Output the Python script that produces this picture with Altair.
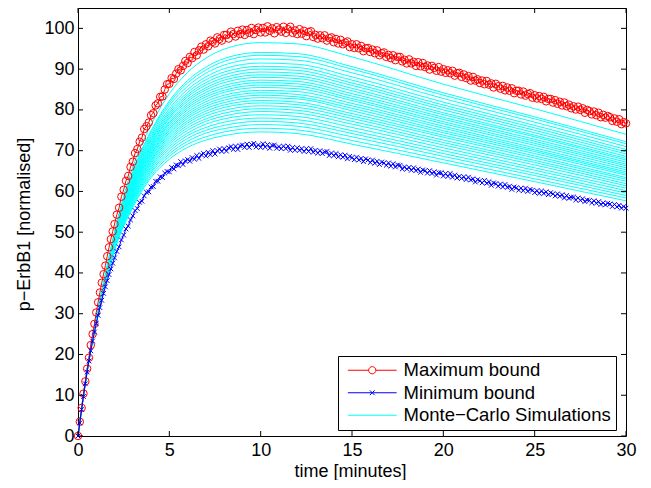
import altair as alt
import pandas as pd

FONT = "Liberation Sans"

SERIES = ["Maximum bound", "Minimum bound", "Monte\u2212Carlo Simulations"]
COLORS = ["#ff0000", "#0000ff", "#00ffff"]
X_TICKS = [0, 5, 10, 15, 20, 25, 30]
Y_TICKS = [0, 10, 20, 30, 40, 50, 60, 70, 80, 90, 100]

# time grid of the Monte-Carlo curves (minutes)
SIM_TIMES = [0, 0.5, 1, 1.5, 2, 3, 4, 5, 6, 7, 8, 10, 12, 15, 20, 25, 30]

MC_01 = [0, 16.3, 29.0, 39.8, 50.2, 66.0, 76.3, 84.0, 89.2, 92.7, 94.9, 96.5, 96.2, 93.0, 86.3, 80.3, 74.0]
MC_02 = [0, 16.2, 28.8, 39.5, 49.7, 64.9, 74.9, 82.2, 87.2, 90.5, 92.6, 94.1, 93.8, 90.6, 84.2, 78.3, 72.2]
MC_03 = [0, 16.2, 28.8, 39.4, 49.5, 64.6, 74.5, 81.7, 86.6, 89.8, 91.9, 93.4, 93.1, 90.0, 83.6, 77.8, 71.7]
MC_04 = [0, 16.2, 28.7, 39.3, 49.3, 64.2, 73.9, 81.1, 85.8, 89.0, 91.0, 92.5, 92.2, 89.1, 82.8, 77.0, 71.0]
MC_05 = [0, 16.2, 28.7, 39.2, 49.1, 63.7, 73.4, 80.3, 85.0, 88.1, 90.1, 91.5, 91.2, 88.1, 81.9, 76.2, 70.3]
MC_06 = [0, 16.2, 28.6, 39.1, 49.0, 63.4, 72.9, 79.7, 84.3, 87.4, 89.3, 90.7, 90.4, 87.3, 81.2, 75.6, 69.7]
MC_07 = [0, 16.2, 28.6, 39.0, 48.8, 63.0, 72.5, 79.2, 83.7, 86.7, 88.6, 90.0, 89.7, 86.6, 80.6, 75.0, 69.2]
MC_08 = [0, 16.1, 28.5, 38.9, 48.7, 62.7, 72.1, 78.7, 83.2, 86.1, 87.9, 89.3, 89.0, 86.0, 80.0, 74.4, 68.6]
MC_09 = [0, 16.1, 28.5, 38.9, 48.5, 62.4, 71.6, 78.2, 82.6, 85.4, 87.3, 88.6, 88.3, 85.3, 79.3, 73.8, 68.1]
MC_10 = [0, 16.1, 28.5, 38.8, 48.4, 62.1, 71.3, 77.8, 82.1, 84.9, 86.7, 88.0, 87.7, 84.7, 78.8, 73.4, 67.7]
MC_11 = [0, 16.1, 28.4, 38.7, 48.2, 61.8, 70.9, 77.2, 81.5, 84.3, 86.0, 87.3, 87.0, 84.0, 78.2, 72.8, 67.2]
MC_12 = [0, 16.1, 28.4, 38.6, 48.1, 61.5, 70.5, 76.8, 81.0, 83.7, 85.4, 86.7, 86.4, 83.4, 77.7, 72.3, 66.7]
MC_13 = [0, 16.1, 28.3, 38.6, 48.0, 61.3, 70.2, 76.4, 80.5, 83.2, 84.8, 86.1, 85.8, 82.8, 77.1, 71.8, 66.3]
MC_14 = [0, 16.1, 28.3, 38.5, 47.8, 61.0, 69.8, 75.9, 80.0, 82.6, 84.3, 85.5, 85.2, 82.3, 76.6, 71.3, 65.8]
MC_15 = [0, 16.0, 28.3, 38.4, 47.7, 60.7, 69.4, 75.4, 79.4, 82.0, 83.6, 84.8, 84.5, 81.6, 76.0, 70.7, 65.3]
MC_16 = [0, 16.0, 28.2, 38.3, 47.6, 60.4, 69.1, 75.0, 78.9, 81.4, 83.0, 84.2, 83.8, 81.0, 75.5, 70.2, 64.8]
MC_17 = [0, 16.0, 28.2, 38.3, 47.4, 60.1, 68.7, 74.5, 78.4, 80.9, 82.4, 83.6, 83.2, 80.4, 74.9, 69.8, 64.4]
MC_18 = [0, 16.0, 28.1, 38.2, 47.3, 59.8, 68.4, 74.1, 77.9, 80.3, 81.8, 83.0, 82.7, 79.8, 74.4, 69.3, 64.0]
MC_19 = [0, 16.0, 28.1, 38.1, 47.2, 59.5, 67.9, 73.6, 77.3, 79.7, 81.2, 82.3, 81.9, 79.1, 73.8, 68.7, 63.4]
MC_20 = [0, 16.0, 28.1, 38.0, 47.0, 59.2, 67.6, 73.1, 76.8, 79.1, 80.6, 81.7, 81.3, 78.5, 73.3, 68.2, 63.0]
MC_21 = [0, 16.0, 28.0, 38.0, 46.9, 58.9, 67.2, 72.6, 76.2, 78.5, 79.9, 81.0, 80.6, 77.9, 72.6, 67.6, 62.5]
MC_22 = [0, 15.9, 28.0, 37.9, 46.7, 58.6, 66.8, 72.1, 75.6, 77.8, 79.2, 80.3, 79.9, 77.2, 72.0, 67.1, 61.9]
MC_23 = [0, 15.9, 27.9, 37.8, 46.6, 58.3, 66.3, 71.6, 75.0, 77.2, 78.5, 79.6, 79.2, 76.5, 71.4, 66.5, 61.4]
MC_24 = [0, 15.9, 27.9, 37.7, 46.4, 57.9, 65.9, 71.0, 74.3, 76.5, 77.8, 78.8, 78.4, 75.7, 70.7, 65.8, 60.8]
MC_25 = [0, 15.9, 27.8, 37.6, 46.2, 57.6, 65.4, 70.4, 73.7, 75.7, 77.0, 78.0, 77.6, 74.9, 70.0, 65.2, 60.2]
MC_26 = [0, 15.9, 27.8, 37.5, 46.1, 57.2, 64.9, 69.8, 73.0, 75.0, 76.2, 77.2, 76.8, 74.2, 69.3, 64.5, 59.6]
MC_27 = [0, 15.8, 27.7, 37.4, 45.9, 56.8, 64.5, 69.2, 72.3, 74.3, 75.4, 76.4, 76.0, 73.4, 68.6, 63.9, 59.0]
MC_28 = [0, 15.8, 27.7, 37.3, 45.7, 56.4, 63.9, 68.6, 71.6, 73.4, 74.6, 75.5, 75.1, 72.5, 67.8, 63.1, 58.4]
MC_29 = [0, 15.8, 27.6, 37.2, 45.5, 56.0, 63.4, 67.9, 70.8, 72.6, 73.7, 74.6, 74.2, 71.6, 67.0, 62.4, 57.7]

MC_RUNS = [MC_01, MC_02, MC_03, MC_04, MC_05, MC_06, MC_07, MC_08, MC_09, MC_10,
           MC_11, MC_12, MC_13, MC_14, MC_15, MC_16, MC_17, MC_18, MC_19, MC_20,
           MC_21, MC_22, MC_23, MC_24, MC_25, MC_26, MC_27, MC_28, MC_29]

# time grid of the bounds (minutes)
BOUND_TIMES = [
    0, 0.1, 0.2, 0.3, 0.4, 0.5, 0.6, 0.7, 0.8, 0.9, 1.0,
    1.1, 1.2, 1.3, 1.4, 1.5, 1.6, 1.7, 1.8, 1.9, 2.0,
    2.125, 2.25, 2.375, 2.5, 2.625, 2.75, 2.875, 3.0,
    3.125, 3.25, 3.375, 3.5, 3.625, 3.75, 3.875, 4.0,
    4.125, 4.25, 4.375, 4.5, 4.625, 4.75, 4.875, 5.0,
    5.125, 5.25, 5.375, 5.5, 5.625, 5.75, 5.875, 6.0,
    6.125, 6.25, 6.375, 6.5, 6.625, 6.75, 6.875, 7.0,
    7.125, 7.25, 7.375, 7.5, 7.625, 7.75, 7.875, 8.0,
    8.125, 8.25, 8.375, 8.5, 8.625, 8.75, 8.875, 9.0,
    9.125, 9.25, 9.375, 9.5, 9.625, 9.75, 9.875, 10.0,
    10.125, 10.25, 10.375, 10.5, 10.625, 10.75, 10.875, 11.0,
    11.125, 11.25, 11.375, 11.5, 11.625, 11.75, 11.875, 12.0,
    12.125, 12.25, 12.375, 12.5, 12.625, 12.75, 12.875, 13.0,
    13.125, 13.25, 13.375, 13.5, 13.625, 13.75, 13.875, 14.0,
    14.125, 14.25, 14.375, 14.5, 14.625, 14.75, 14.875, 15.0,
    15.125, 15.25, 15.375, 15.5, 15.625, 15.75, 15.875, 16.0,
    16.125, 16.25, 16.375, 16.5, 16.625, 16.75, 16.875, 17.0,
    17.125, 17.25, 17.375, 17.5, 17.625, 17.75, 17.875, 18.0,
    18.125, 18.25, 18.375, 18.5, 18.625, 18.75, 18.875, 19.0,
    19.125, 19.25, 19.375, 19.5, 19.625, 19.75, 19.875, 20.0,
    20.125, 20.25, 20.375, 20.5, 20.625, 20.75, 20.875, 21.0,
    21.125, 21.25, 21.375, 21.5, 21.625, 21.75, 21.875, 22.0,
    22.125, 22.25, 22.375, 22.5, 22.625, 22.75, 22.875, 23.0,
    23.125, 23.25, 23.375, 23.5, 23.625, 23.75, 23.875, 24.0,
    24.125, 24.25, 24.375, 24.5, 24.625, 24.75, 24.875, 25.0,
    25.125, 25.25, 25.375, 25.5, 25.625, 25.75, 25.875, 26.0,
    26.125, 26.25, 26.375, 26.5, 26.625, 26.75, 26.875, 27.0,
    27.125, 27.25, 27.375, 27.5, 27.625, 27.75, 27.875, 28.0,
    28.125, 28.25, 28.375, 28.5, 28.625, 28.75, 28.875, 29.0,
    29.125, 29.25, 29.375, 29.5, 29.625, 29.75, 29.875, 30.0,
]

MAX_BOUND = [
    0, 3.5, 6.9, 10.4, 13.4, 16.5, 19.2, 22.3, 25.0, 27.5, 30.3,
    32.8, 35.2, 37.6, 39.7, 41.8, 44.1, 46.3, 48.3, 50.2, 52.0,
    54.3, 56.0, 58.7, 60.4, 62.6, 63.8, 66.0, 67.3,
    69.4, 70.4, 72.2, 73.2, 75.3, 76.0, 76.9, 78.7,
    79.2, 81.1, 81.6, 83.2, 83.3, 85.0, 86.3, 86.4,
    87.8, 87.6, 88.9, 90.0, 89.7, 90.8, 92.0, 91.5,
    93.0, 92.7, 94.2, 93.4, 94.6, 95.5, 94.8, 96.1,
    95.6, 97.0, 96.7, 96.3, 97.8, 97.4, 97.0, 98.4,
    98.4, 97.5, 99.2, 98.6, 98.0, 99.4, 98.6, 99.7,
    98.4, 99.6, 98.9, 100.1, 98.6, 99.6, 100.2, 99.0,
    100.1, 99.0, 100.5, 99.4, 100.0, 98.8, 100.3, 99.7,
    99.2, 100.4, 98.9, 99.8, 100.4, 98.9, 99.5, 98.6,
    99.8, 98.7, 99.4, 98.1, 99.1, 99.3, 97.9, 98.4,
    97.5, 98.3, 97.6, 98.3, 97.0, 97.6, 97.8, 96.6,
    97.4, 96.3, 97.2, 96.1, 96.5, 96.8, 95.4, 96.1,
    95.2, 96.1, 95.1, 95.7, 94.4, 95.1, 95.2, 94.2,
    94.8, 93.9, 94.6, 93.4, 93.9, 94.1, 93.0, 93.5,
    92.7, 93.4, 92.2, 93.0, 93.0, 91.9, 92.3, 91.4,
    92.4, 91.4, 91.8, 90.8, 91.7, 90.7, 91.5, 90.5,
    90.9, 89.9, 90.8, 90.3, 89.6, 90.5, 89.4, 90.0,
    89.1, 89.7, 89.0, 89.6, 88.4, 89.0, 89.1, 88.1,
    88.7, 87.8, 88.3, 87.2, 88.1, 87.2, 87.5, 86.6,
    87.2, 86.3, 87.1, 86.2, 86.5, 85.5, 86.4, 85.8,
    85.2, 85.9, 84.8, 85.5, 84.7, 85.3, 84.1, 84.7,
    84.7, 83.8, 84.5, 83.5, 83.9, 84.1, 83.0, 83.6,
    82.8, 83.4, 82.7, 83.2, 82.1, 82.7, 82.7, 81.8,
    82.4, 81.5, 82.0, 81.1, 81.8, 80.9, 81.3, 80.4,
    80.9, 80.1, 80.8, 80.0, 80.4, 79.3, 80.0, 79.7,
    78.9, 79.6, 78.7, 79.3, 78.2, 78.8, 78.1, 78.5,
    78.2, 77.3, 77.9, 77.1, 77.7, 76.5, 77.0, 76.7,
]

MIN_BOUND = [
    0, 3.2, 6.5, 9.7, 12.8, 15.7, 18.4, 20.9, 23.3, 25.5, 27.6,
    29.6, 31.5, 33.3, 35.0, 36.6, 38.1, 39.6, 41.0, 42.4, 43.7,
    45.3, 46.4, 48.1, 49.3, 50.8, 51.5, 53.0, 54.0,
    55.3, 55.8, 57.3, 57.6, 58.9, 59.8, 59.9, 61.1,
    61.2, 62.5, 62.5, 63.6, 63.4, 64.5, 64.9, 64.8,
    65.9, 65.5, 66.5, 66.3, 67.3, 66.6, 67.5, 67.8,
    67.4, 68.3, 67.9, 68.8, 68.1, 69.0, 69.3, 68.7,
    69.6, 69.0, 70.0, 69.2, 70.0, 70.4, 69.8, 70.5,
    69.9, 70.7, 71.0, 70.3, 71.1, 70.3, 71.2, 71.4,
    70.8, 71.6, 70.8, 71.5, 71.8, 70.9, 71.4, 70.8,
    71.7, 70.9, 71.5, 70.6, 71.3, 71.4, 70.6, 71.0,
    70.5, 71.1, 70.5, 71.1, 70.1, 70.8, 70.1, 70.7,
    70.1, 70.5, 69.8, 70.5, 69.8, 70.5, 69.6, 70.1,
    69.4, 70.0, 69.3, 69.7, 69.8, 68.8, 69.4, 68.8,
    69.3, 68.5, 69.0, 68.4, 68.9, 68.0, 68.6, 68.3,
    67.8, 68.4, 67.7, 68.1, 67.3, 68.0, 67.7, 67.1,
    67.7, 66.9, 67.4, 66.6, 67.2, 67.0, 66.4, 67.0,
    66.2, 66.8, 66.0, 66.5, 66.4, 65.5, 66.0, 65.5,
    65.9, 65.2, 65.8, 65.1, 65.5, 64.7, 65.3, 65.1,
    64.5, 65.1, 64.4, 64.8, 64.0, 64.6, 64.6, 63.8,
    64.4, 63.7, 64.4, 63.5, 64.0, 63.3, 63.7, 63.2,
    63.6, 62.9, 63.5, 62.8, 63.1, 62.3, 62.9, 62.6,
    62.1, 62.7, 62.0, 62.4, 61.5, 62.1, 61.9, 61.3,
    61.8, 61.1, 61.7, 61.0, 61.3, 60.5, 61.1, 60.9,
    60.3, 60.8, 60.2, 60.8, 60.0, 60.5, 60.3, 59.7,
    60.2, 59.5, 60.1, 59.5, 59.9, 59.2, 59.7, 59.4,
    58.9, 59.4, 58.8, 59.2, 58.4, 59.0, 58.3, 58.6,
    58.6, 57.9, 58.4, 57.8, 58.2, 57.5, 57.9, 57.8,
    57.2, 57.7, 57.1, 57.5, 56.8, 57.2, 56.7, 57.1,
    56.9, 56.3, 56.8, 56.2, 56.6, 55.9, 56.3, 55.9,
]

# ---------------------------------------------------------------- tables
mc_rows = []
for i, run in enumerate(MC_RUNS):
    for t, v in zip(SIM_TIMES, run):
        mc_rows.append({"t": t, "v": v, "run": i})
mc_df = pd.DataFrame(mc_rows)
max_df = pd.DataFrame({"t": BOUND_TIMES, "v": MAX_BOUND})
min_df = pd.DataFrame({"t": BOUND_TIMES, "v": MIN_BOUND})
leg_df = pd.DataFrame({"t": [0, 0, 0], "v": [0, 0, 0], "series": SERIES})
xt_df = pd.DataFrame({"t": X_TICKS})
yt_df = pd.DataFrame({"v": Y_TICKS})

W, H = 548, 428
TICK = 5

xs = alt.Scale(domain=[0, 30], nice=False, zero=False)
ys = alt.Scale(domain=[0, 105], nice=False, zero=False)
x_axis = alt.Axis(values=X_TICKS, title="time [minutes]", labelPadding=5,
                  labelFlush=False, labelOverlap=False,
                  titleX=W / 2 - 2, titleY=40.5, titleAlign="center",
                  titleBaseline="alphabetic")
y_axis = alt.Axis(values=Y_TICKS, title="p\u2212ErbB1 [normalised]", labelPadding=4,
                  labelFlush=False, labelOverlap=False,
                  titleX=-49, titleY=216, titleAngle=270, titleAlign="center",
                  titleBaseline="alphabetic")
X = alt.X("t:Q", scale=xs, axis=x_axis)
Y = alt.Y("v:Q", scale=ys, axis=y_axis)

# legend symbols: line + marker
SHAPE_MAX = "M-12.2,0H-1.8M1.8,0H12.2M-1.8,0A1.8,1.8 0 1,0 1.8,0A1.8,1.8 0 1,0 -1.8,0"
SHAPE_MIN = "M-12.2,0H12.2M-1.2,-1.2L1.2,1.2M-1.2,1.2L1.2,-1.2"
SHAPE_MC = "M-12.2,0H12.2"
X_MARK = "M-1,-1L1,1M-1,1L1,-1"

legend = alt.Legend(title=None, orient="none", legendX=260, legendY=348,
                    direction="vertical", strokeColor="black", fillColor="white",
                    padding=5, labelFont=FONT, labelFontSize=18.5, labelColor="black",
                    symbolOpacity=1, symbolStrokeWidth=1, symbolSize=16,
                    symbolOffset=20, labelOffset=22, rowPadding=3.5, labelLimit=400)

mc_layer = alt.Chart(mc_df).mark_line(color="#00ffff", strokeWidth=1,
                                       interpolate="monotone").encode(x=X, y=Y, detail="run:N")
max_line = alt.Chart(max_df).mark_line(color="#ff0000", strokeWidth=1).encode(x=X, y=Y)
max_pts = alt.Chart(max_df).mark_point(shape="circle", filled=False, color="#ff0000",
                                        size=56, strokeWidth=1, opacity=1).encode(x=X, y=Y)
min_line = alt.Chart(min_df).mark_line(color="#0000ff", strokeWidth=1).encode(x=X, y=Y)
min_pts = alt.Chart(min_df).mark_point(shape=X_MARK, filled=False, color="#0000ff",
                                        size=22, strokeWidth=1, opacity=1).encode(x=X, y=Y)
leg_layer = alt.Chart(leg_df).mark_point(filled=False, opacity=0).encode(
    x=X, y=Y,
    color=alt.Color("series:N", scale=alt.Scale(domain=SERIES, range=COLORS), legend=legend),
    shape=alt.Shape("series:N", scale=alt.Scale(domain=SERIES, range=[SHAPE_MAX, SHAPE_MIN, SHAPE_MC]),
                    legend=legend),
)

tick_b = alt.Chart(xt_df).mark_rule(color="black", strokeWidth=1).encode(
    x=X, y=alt.value(H), y2=alt.value(H - TICK))
tick_t = alt.Chart(xt_df).mark_rule(color="black", strokeWidth=1).encode(
    x=X, y=alt.value(0), y2=alt.value(TICK))
tick_l = alt.Chart(yt_df).mark_rule(color="black", strokeWidth=1).encode(
    y=Y, x=alt.value(0), x2=alt.value(TICK))
tick_r = alt.Chart(yt_df).mark_rule(color="black", strokeWidth=1).encode(
    y=Y, x=alt.value(W - TICK), x2=alt.value(W))

chart = alt.layer(
    mc_layer, max_line, max_pts, min_line, min_pts, leg_layer,
    tick_b, tick_t, tick_l, tick_r,
).properties(
    width=W, height=H,
    padding={"left": 70, "top": 0, "right": 12, "bottom": 44},
    autosize=alt.AutoSizeParams(type="none"),
).configure(background="white").configure_view(
    stroke="black", strokeWidth=1
).configure_axis(
    grid=False, domain=False, ticks=False,
    labelFont=FONT, labelFontSize=18, labelColor="black",
    titleFont=FONT, titleFontSize=18, titleFontWeight="normal", titleColor="black",
)

chart.save("out.html", embed_options={"renderer": "svg", "actions": False})
